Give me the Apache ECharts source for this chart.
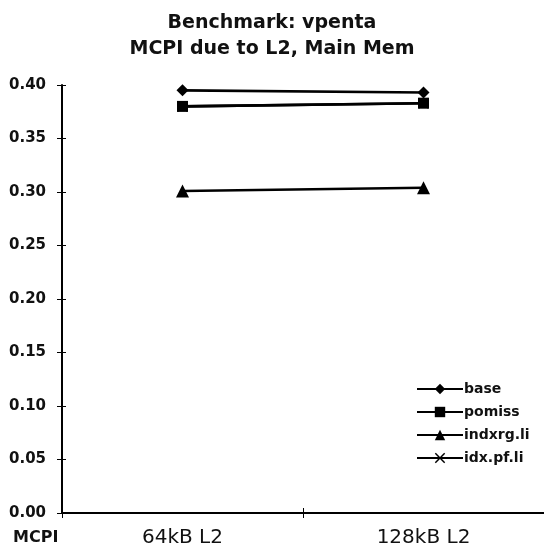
<!DOCTYPE html>
<html>
<head>
<meta charset="utf-8">
<script src="https://cdn.jsdelivr.net/npm/echarts@6/dist/echarts.min.js"></script>
<style>
  html, body { margin: 0; padding: 0; background: #fff; }
  #chart { width: 544px; height: 558px; }
</style>
</head>
<body>
<div id="chart"></div>
<script>
// Cache sizes on the x axis
const categories = ['64kB L2', '128kB L2'];

// MCPI per configuration
const baseValues = [0.395, 0.393];
const pomissValues = [0.380, 0.383];
const indxrgValues = [0.301, 0.304];
const idxPfValues = [0.380, 0.383];

// Y axis range and step
const yMin = 0;
const yMax = 0.4;
const yStep = 0.05;

const BOLD_FONT = '"DejaVu Sans", "Liberation Sans", Arial, sans-serif';
const crossPath = 'path://M0,1 L1,0 L5,4 L9,0 L10,1 L6,5 L10,9 L9,10 L5,6 L1,10 L0,9 L4,5 Z';

function lineSeries(name, data, symbol, size, z) {
  return {
    name: name,
    type: 'line',
    data: data,
    xAxisIndex: 0,
    yAxisIndex: 0,
    symbol: symbol,
    symbolSize: size,
    z: z,
    lineStyle: { color: '#000', width: 2.6 },
    itemStyle: { color: '#000' },
    emphasis: { disabled: true },
    animation: false
  };
}

const chart = echarts.init(document.getElementById('chart'), null, { renderer: 'canvas' });
chart.setOption({
  backgroundColor: '#fff',
  animation: false,
  title: {
    text: 'Benchmark: vpenta\nMCPI due to L2, Main Mem',
    left: 'center',
    top: 5,
    textStyle: {
      fontFamily: BOLD_FONT,
      fontWeight: 'bold',
      fontSize: 19,
      lineHeight: 26,
      color: '#111'
    }
  },
  grid: { left: 62, right: 0, top: 85, bottom: 45, containLabel: false },
  legend: {
    orient: 'vertical',
    left: 411,
    top: 377,
    itemWidth: 46,
    itemHeight: 13,
    itemGap: 9,
    textStyle: { fontFamily: BOLD_FONT, fontWeight: 'bold', fontSize: 14, color: '#111', padding: [0, 0, 0, -4] },
    data: ['base', 'pomiss', 'indxrg.li', 'idx.pf.li']
  },
  xAxis: [
    {
      type: 'category',
      data: categories,
      boundaryGap: true,
      axisLine: { lineStyle: { color: '#000', width: 2 } },
      axisTick: { show: true, length: 5, lineStyle: { color: '#000' } },
      axisLabel: { fontFamily: BOLD_FONT, fontSize: 20, color: '#111', margin: 15 }
    },
    {
      type: 'category',
      data: categories,
      position: 'top',
      axisLine: { lineStyle: { color: '#000', width: 2 } },
      axisTick: { show: false },
      axisLabel: { show: false }
    },
    {
      // inner half of the crossing ticks on the bottom axis
      type: 'category',
      data: categories,
      position: 'bottom',
      axisLine: { show: false },
      axisTick: { show: true, inside: true, length: 5, lineStyle: { color: '#000' } },
      axisLabel: { show: false }
    }
  ],
  yAxis: [
    {
      type: 'value',
      min: yMin,
      max: yMax,
      interval: yStep,
      axisLine: { show: true, lineStyle: { color: '#000', width: 2 } },
      axisTick: { show: true, length: 5, lineStyle: { color: '#000' } },
      splitLine: { show: false },
      axisLabel: {
        fontFamily: BOLD_FONT,
        fontWeight: 'bold',
        fontSize: 15,
        color: '#111',
        margin: 16,
        formatter: v => v.toFixed(2)
      }
    },
    {
      // inner half of the crossing ticks on the value axis
      type: 'value',
      position: 'left',
      min: yMin,
      max: yMax,
      interval: yStep,
      axisLine: { show: false },
      axisTick: { show: true, inside: true, length: 4, lineStyle: { color: '#000' } },
      splitLine: { show: false },
      axisLabel: { show: false }
    }
  ],
  graphic: [
    {
      type: 'text',
      left: 13,
      top: 530,
      style: { text: 'MCPI', font: 'bold 16px ' + BOLD_FONT, fill: '#111' }
    }
  ],
  series: [
    lineSeries('idx.pf.li', idxPfValues, crossPath, 11, 1),
    lineSeries('indxrg.li', indxrgValues, 'triangle', 13, 2),
    lineSeries('pomiss', pomissValues, 'rect', 11, 3),
    lineSeries('base', baseValues, 'diamond', 12, 4)
  ]
});
</script>
</body>
</html>
